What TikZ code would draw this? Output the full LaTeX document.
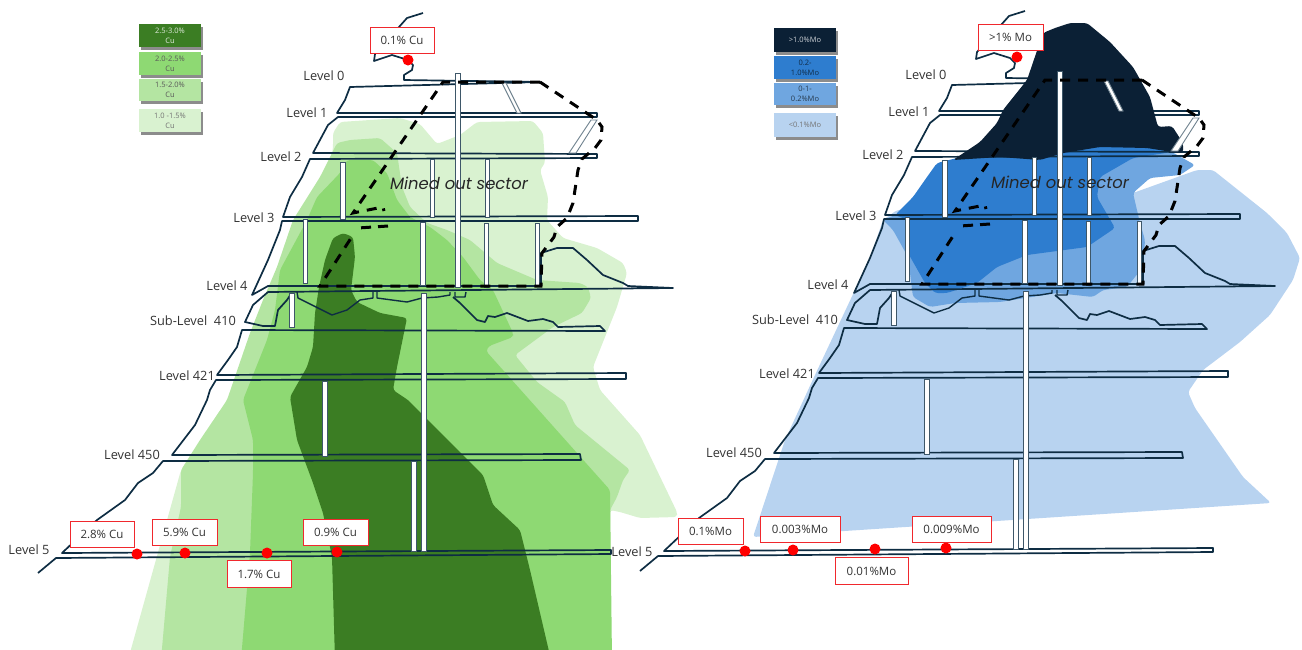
\documentclass[tikz,border=0pt]{standalone}
\usepackage{fontspec}
\setmainfont{Open Sans}
\newfontfamily\sectfont{Poppins}
\usetikzlibrary{shadows}
\definecolor{lineC}{HTML}{0E2D43}
\definecolor{gA}{HTML}{3B7D23}
\definecolor{gB}{HTML}{8ED973}
\definecolor{gC}{HTML}{B4E5A2}
\definecolor{gD}{HTML}{D9F2D0}
\definecolor{bA}{HTML}{0B2035}
\definecolor{bB}{HTML}{2E7DCF}
\definecolor{bC}{HTML}{6FA6E0}
\definecolor{bD}{HTML}{B8D3F0}
\definecolor{redC}{HTML}{F0282D}
\tikzset{
  zone/.style={rounded corners=3pt,draw=none},
  mineline/.style={draw=lineC,line width=1.7pt,line join=round},
  barsty/.style={fill=white,draw=lineC!80!white,line width=.9pt},
  incl/.style={fill=white,draw=lineC!60!white,line width=.9pt},
  minedash/.style={draw=black,line width=3pt,dash pattern=on 10pt off 8pt},
  lvl/.style={font=\fontsize{12.8}{14}\selectfont,text=black!80,inner sep=0pt},
  assay/.style={draw=redC,line width=1pt,fill=white,font=\fontsize{11.5}{13}\selectfont,text=black!80,inner sep=0pt,minimum height=26.5pt},
  dot/.style={circle,fill=red,draw=none,minimum size=11pt,inner sep=0pt},
  leg/.style={minimum width=62pt,align=center,inner sep=0pt,font=\fontsize{7.5}{10}\selectfont,
     drop shadow={shadow xshift=2pt,shadow yshift=-2.5pt,fill=black,opacity=.45}},
  sector/.style={font=\fontsize{16.4}{18}\sectfont\itshape,text=black!85,inner sep=0pt}
}
\newcommand{\MineLines}{%
  \path[mineline] (423,13)--(407,18)--(399,27)--(390,38)--(375,54)--(374,61)--(383,58)--(392,55)--(408,60)--(413,65)--(412,70)--(404,75)--(404,80)--(540,82)--(350,87)--(345,100)--(337,113)--(597,113)--(597,117)--(338,117)--(328,125)--(313,153)--(597,154)--(597,158)--(310,159)--(302,177)--(290,197)--(283,217)--(638,216)--(638,221)--(282,221)--(280,230)--(268,260)--(252,295)--(268,286)--(541,286)--(541,253)--(557,248)--(573,248)--(587,260)--(603,275)--(623,283)--(628,286)--(673,288)--(268,292)--(253,305)--(245,322)--(263,326)--(275,326)--(278,310)--(287,300)--(291,294);
  \path[mineline,line width=1.4pt] (297,292)--(298,298)--(332,315)--(347,310)--(360,300)--(373,298)--(373,292);
  \path[mineline,line width=1.4pt] (377,292)--(377,298)--(407,302)--(422,298)--(438,297)--(450,295)--(450,292);
  \path[mineline,line width=1.4pt] (455,292)--(455,297)--(465,297)--(466,292);
  \path[mineline] (453,297)--(460,303)--(477,320)--(485,322)--(488,316)--(495,317)--(507,313)--(528,321)--(543,319)--(553,322)--(558,327)--(600,326)--(605,331)--(242,330)--(237,347)--(228,360)--(217,375)--(626,373)--(626,379)--(216,380)--(210,390)--(207,400)--(195,425)--(172,455)--(580,454)--(581,460)--(163,461)--(153,473)--(138,483)--(125,500)--(97,520)--(62,553)--(611,550)--(611,554)--(56,558)--(38,573);
}
\newcommand{\MineBars}{%
  \path[incl] (502,83)--(517,113)--(521,113)--(506,83)--cycle;
  \path[incl] (569,153)--(591,120)--(597,120)--(576,153)--cycle;
  \path[barsty] (340,162) rectangle (345,219);
  \path[barsty] (430,159) rectangle (434,217);
  \path[barsty] (485,159) rectangle (489,217);
  \path[barsty] (303,219) rectangle (307,283);
  \path[barsty] (420,222) rectangle (425,285);
  \path[barsty] (484,223) rectangle (488,287);
  \path[barsty] (535,223) rectangle (539,285);
  \path[barsty] (455.5,73) rectangle (460.5,287);
  \path[barsty] (421,293) rectangle (426,551);
  \path[barsty] (289,293) rectangle (294,327);
  \path[barsty] (322,381) rectangle (327,456);
  \path[barsty] (411,461) rectangle (416,551);
}
\newcommand{\MineDash}{%
  \path[minedash] (540,82)--(443,82)--(353,213)--(383,207)--(384,211);
  \path[minedash] (540,82)--(597,120)--(602,127)--(601,140)--(595,148)--(582,159)--(578,170)--(573,203)--(567,218)--(557,227)--(554,237)--(542,253)--(541,286)--(320,286)--(353,235);
  \path[minedash,dash pattern=on 10pt off 7pt] (388,226)--(358,228);
}
\begin{document}
\begin{tikzpicture}[x=1pt,y=-1pt]
\useasboundingbox (0,0) rectangle (1302,649);
\begin{scope}
\clip (0,0) rectangle (1302,649);
% copper zones
\path[zone,fill=gD] (128,660)--(181,470)--(240,400)--(330,170)--(333,147)--(333,133)--(340,122)--(400,118)--(420,124)--(437,144)--(460,135)--(477,122)--(533,121)--(543,133)--(545,163)--(540,170)--(548,197)--(547,220)--(563,238)--(597,248)--(623,263)--(627,273)--(617,307)--(593,367)--(600,390)--(640,435)--(677,512)--(677,517)--(640,518)--(620,512)--(610,510)--(610,660)--cycle;
\path[zone,fill=gC] (161,660)--(170,557)--(181,507)--(181,470)--(200,440)--(227,400)--(250,333)--(263,300)--(277,267)--(293,220)--(320,177)--(337,143)--(350,140)--(380,138)--(397,153)--(402,187)--(410,207)--(427,223)--(447,230)--(470,240)--(497,263)--(537,280)--(580,283)--(588,287)--(591,298)--(582,313)--(553,327)--(515,355)--(537,382)--(565,402)--(575,425)--(630,470)--(623,480)--(617,497)--(610,510)--(610,660)--cycle;
\path[zone,fill=gB] (241,660)--(250,553)--(253,473)--(253,440)--(243,400)--(267,340)--(275,310)--(280,270)--(307,220)--(317,197)--(340,173)--(347,160)--(373,160)--(387,173)--(397,200)--(410,217)--(430,227)--(447,240)--(463,257)--(480,280)--(493,290)--(513,333)--(513,337)--(489,346)--(486,351)--(610,490)--(612,660)--cycle;
\path[zone,fill=gA] (335,660)--(332,557)--(323,513)--(313,483)--(297,440)--(290,397)--(307,367)--(313,347)--(315,313)--(319,287)--(325,260)--(333,238)--(343,233)--(353,237)--(355,257)--(351,290)--(357,302)--(380,313)--(407,318)--(397,367)--(393,390)--(408,400)--(460,452)--(483,475)--(493,505)--(520,530)--(530,570)--(551,660)--cycle;
\end{scope}
% molybdenum zones
\path[zone,fill=bD] (753,537)--(785,440)--(815,375)--(870,258)--(883,220)--(897,210)--(1133,193)--(1197,170)--(1213,170)--(1267,213)--(1287,233)--(1300,258)--(1293,280)--(1270,315)--(1240,342)--(1203,370)--(1188,392)--(1195,408)--(1243,477)--(1271,503)--cycle;
\path[zone,fill=bC] (1172,152)--(1195,165)--(1180,175)--(1150,178)--(1133,193)--(1140,223)--(1145,240)--(1143,267)--(1127,287)--(1103,290)--(1093,297)--(1057,293)--(1000,302)--(955,303)--(930,307)--(913,297)--(908,257)--(893,230)--(883,220)--(895,215)--(1000,170)--cycle;
\path[zone,fill=bB] (895,215)--(913,197)--(927,177)--(937,163)--(957,158)--(1063,150)--(1100,145)--(1147,146)--(1172,152)--(1133,158)--(1100,177)--(1097,197)--(1115,228)--(1087,247)--(1027,255)--(997,267)--(977,283)--(947,293)--(935,293)--(925,283)--(908,253)--(908,220)--cycle;
% mine, left panel
\MineLines
% mine, right panel
\begin{scope}[xshift=602pt,yshift=2pt]
\MineLines
\end{scope}
\path[zone,fill=bA] (953,160)--(980,142)--(997,123)--(1003,110)--(1027,80)--(1043,33)--(1055,28)--(1070,23)--(1087,23)--(1110,42)--(1133,67)--(1150,97)--(1158,127)--(1172,126)--(1183,143)--(1183,153)--(1172,152)--(1147,148)--(1100,147)--(1063,153)--(1040,160)--(1000,157)--cycle;
\MineBars
\MineDash
\begin{scope}[xshift=602pt,yshift=2pt]
\MineBars
\MineDash
\end{scope}
\node[sector] (secL) at (459,183) {Mined out sector};
\node[sector] (secR) at (1060,182) {Mined out sector};
% level labels
\node[lvl] (l0) at (324,76) {Level 0};
\node[lvl] (l1) at (307,113) {Level 1};
\node[lvl] (l2) at (281,157) {Level 2};
\node[lvl] (l3) at (254,218) {Level 3};
\node[lvl] (l4) at (227,286) {Level 4};
\node[lvl] (lS) at (193,321) {Sub-Level\ \ 410};
\node[lvl] (l421) at (187,376) {Level 421};
\node[lvl] (l450) at (132,455) {Level 450};
\node[lvl] (l5) at (29,550) {Level 5};
\node[lvl] (r0) at (926,75) {Level 0};
\node[lvl] (r1) at (909,112) {Level 1};
\node[lvl] (r2) at (883,155) {Level 2};
\node[lvl] (r3) at (856,216) {Level 3};
\node[lvl] (r4) at (828,285) {Level 4};
\node[lvl] (rS) at (795,320) {Sub-Level\ \ 410};
\node[lvl] (r421) at (787,374) {Level 421};
\node[lvl] (r450) at (734,453) {Level 450};
\node[lvl] (r5) at (632,552) {Level 5};
% dots
\node[dot] (dA) at (408,60) {};
\node[dot] (dB) at (137,554) {};
\node[dot] (dC) at (185,553) {};
\node[dot] (dD) at (267,553) {};
\node[dot] (dE) at (337,552) {};
\node[dot] (dF) at (1017,57) {};
\node[dot] (dG) at (745,551) {};
\node[dot] (dH) at (793,550) {};
\node[dot] (dI) at (875,549) {};
\node[dot] (dJ) at (946,548) {};
% assay labels
\node[assay,minimum width=64pt] (aA) at (402,40.5) {0.1\% Cu};
\node[assay,minimum width=64pt] (aB) at (102,534.5) {2.8\% Cu};
\node[assay,minimum width=65pt] (aC) at (184.5,532.5) {5.9\% Cu};
\node[assay,minimum width=64pt] (aD) at (259,574) {1.7\% Cu};
\node[assay,minimum width=65pt] (aE) at (335.5,532.5) {0.9\% Cu};
\node[assay,minimum width=65pt] (aF) at (1010.5,37.5) {>1\% Mo};
\node[assay,minimum width=65pt] (aG) at (710.5,531.5) {0.1\%Mo};
\node[assay,minimum width=80pt] (aH) at (800,529.5) {0.003\%Mo};
\node[assay,minimum width=73pt] (aI) at (871.5,571) {0.01\%Mo};
\node[assay,minimum width=79pt] (aJ) at (951.5,529.5) {0.009\%Mo};
% legends
\node[leg,fill=gA,text=white!85!gA,minimum height=23pt] (c1) at (170,35.5) {2.5-3.0\%\\Cu};
\node[leg,fill=gB,text=black!65,minimum height=23pt] (c2) at (170,63.5) {2.0-2.5\%\\Cu};
\node[leg,fill=gC,text=black!65,minimum height=22pt] (c3) at (170,90) {1.5-2.0\%\\Cu};
\node[leg,fill=gD,text=black!55,minimum height=23pt] (c4) at (170,120.5) {1.0 -1.5\%\\Cu};
\node[leg,fill=bA,text=white!80!bA,minimum height=24pt] (m1) at (805,40) {>1.0\%Mo};
\node[leg,fill=bB,text=black!65!bB,minimum height=23pt] (m2) at (805,67.5) {0.2-\\1.0\%Mo};
\node[leg,fill=bC,text=black!65!bC,minimum height=22pt] (m3) at (805,94) {0-1-\\0.2\%Mo};
\node[leg,fill=bD,text=black!55,minimum height=24pt] (m4) at (805,125) {<0.1\%Mo};
\end{tikzpicture}
\end{document}
